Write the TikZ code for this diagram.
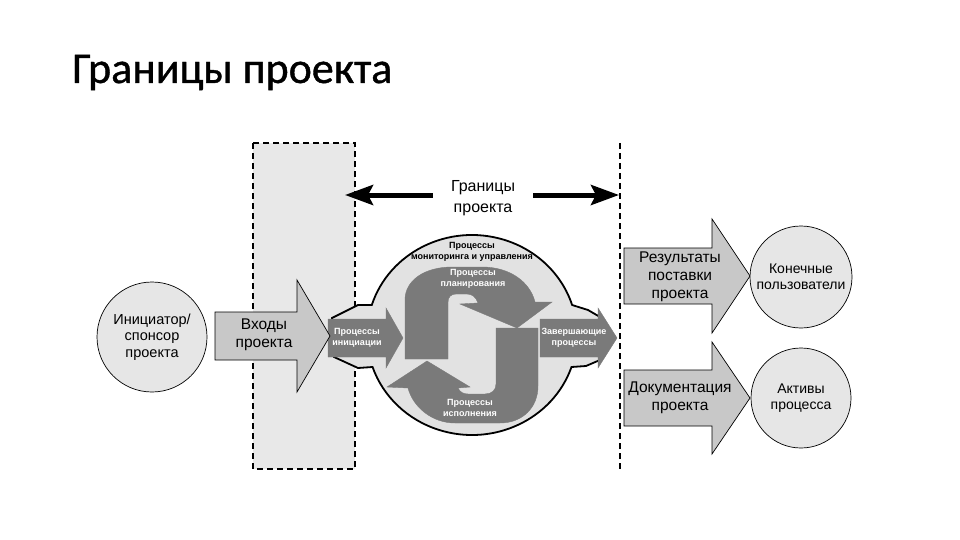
\documentclass[tikz,border=0pt]{standalone}
\usepackage{fontspec}
\setmainfont{Liberation Sans}
\newfontfamily\titlefont[FakeBold=0.9]{Carlito}
\usetikzlibrary{arrows.meta}

\definecolor{panelgray}{HTML}{E8E8E8}
\definecolor{cloudgray}{HTML}{E2E2E2}
\definecolor{blockgray}{HTML}{C8C8C8}
\definecolor{procgray}{HTML}{7A7A7A}
\definecolor{roundgray}{HTML}{E6E6E6}

% block arrow: style, back x, neck x, tip x, mid y, half shaft, half head
\newcommand{\blkarrow}[7]{%
  \draw[#1] (#2,#5-#6) -- (#3,#5-#6) -- (#3,#5-#7) -- (#4,#5) -- (#3,#5+#7) -- (#3,#5+#6) -- (#2,#5+#6) -- cycle;}

\begin{document}
\begin{tikzpicture}[x=1pt,y=-1pt,
    bigarrow/.style={draw=black, line width=0.7pt, fill=blockgray},
    procarrow/.style={draw=procgray, fill=procgray},
    ball/.style={circle, draw=black, line width=0.7pt, fill=roundgray, inner sep=0pt, align=center, font=\fontsize{14}{16}\selectfont},
    lbl/.style={align=center, font=\fontsize{15.5}{18}\selectfont},
    proclbl/.style={align=center, text=white, font=\fontsize{9}{11.5}\selectfont\bfseries},
    bndarrow/.style={line width=5pt, -{Stealth[length=28pt,width=20pt,inset=5pt]}},
    border/.style={dash pattern=on 6pt off 4pt, line width=1.2pt}]
  \useasboundingbox (0,0) rectangle (960,540);
  \fill[white] (0,0) rectangle (960,540);

  \node[anchor=base west, inner sep=0pt, font=\titlefont\fontsize{44}{50}\selectfont] (title) at (72,83) {Границы проекта};

  % project boundary
  \draw[border, fill=panelgray] (253,143) rectangle (355,469);
  \draw[border] (620,143) -- (620,469);

  \node[lbl, font=\fontsize{16}{21}\selectfont, text width=70pt, inner xsep=15pt] (bndlbl) at (483,198) {Границы\\проекта};
  \coordinate (bndL) at (345,195);
  \coordinate (bndR) at (619,195);
  \draw[bndarrow] (bndlbl.west |- bndL) -- (bndL);
  \draw[bndarrow] (bndlbl.east |- bndR) -- (bndR);

  % process groups
  \draw[line width=1.8pt, fill=cloudgray] (332,318) -- (358,305) -- (371.8,305)
    arc[start angle=197.46, end angle=342.54, x radius=105, y radius=100] -- (588,310) -- (600,317)
    -- (600,360) -- (586,366) -- (571.5,367)
    arc[start angle=18.66, end angle=161.34, x radius=105, y radius=100] -- (358,368) -- (334,357) -- cycle;

  \fill[procarrow] (405,359) -- (405,300) .. controls (405,280) and (425,267) .. (452,267) -- (482,267)
    .. controls (510,267) and (530,282) .. (535,302) -- (552,302) -- (517,328) -- (460,304) -- (478,303)
    .. controls (476,297) and (472,294) .. (467,294) -- (456,294) .. controls (451,294) and (448,297) .. (448,302)
    -- (448,359) -- cycle;
  \fill[procarrow] (496,328) -- (538,328) -- (538,386) .. controls (538,408) and (522,423) .. (500,423)
    -- (455,423) .. controls (432,423) and (413,407) .. (408,388) -- (387,387) -- (427,361) -- (470,387)
    -- (458,388) .. controls (460,392) and (463,394) .. (468,394) -- (485,394)
    .. controls (492,394) and (496,390) .. (496,384) -- cycle;

  \blkarrow{procarrow}{328}{386}{403}{338}{19}{30}
  \blkarrow{procarrow}{540}{598}{617}{338}{19}{30}

  \node[align=center, font=\fontsize{9}{11}\selectfont\bfseries] (monlbl) at (472,252) {Процессы\\мониторинга и управления};
  \node[proclbl] (planlbl) at (473,279) {Процессы\\планирования};
  \node[proclbl] (execlbl) at (470,408) {Процессы\\исполнения};
  \node[proclbl] (initlbl) at (357,338) {Процессы\\инициации};
  \node[proclbl] (closelbl) at (574,338) {Завершающие\\процессы};

  % inputs and outputs
  \blkarrow{bigarrow}{215}{297}{330}{336}{24}{56}
  \blkarrow{bigarrow}{624}{712}{750}{276}{28}{57}
  \blkarrow{bigarrow}{624}{712}{750}{398}{28}{56}

  \node[lbl] (inputs) at (264,335) {Входы\\проекта};
  \node[lbl] (deliver) at (680,277) {Результаты\\поставки\\проекта};
  \node[lbl] (docs) at (680,398) {Документация\\проекта};

  \node[ball, minimum size=110pt, font=\fontsize{14.5}{16.5}\selectfont] (sponsor) at (152,337) {Инициатор/\\спонсор\\проекта};
  \node[ball, minimum size=102pt] (users) at (801,277) {Конечные\\пользователи};
  \node[ball, minimum size=100pt] (assets) at (801,398) {Активы\\процесса};
\end{tikzpicture}
\end{document}
